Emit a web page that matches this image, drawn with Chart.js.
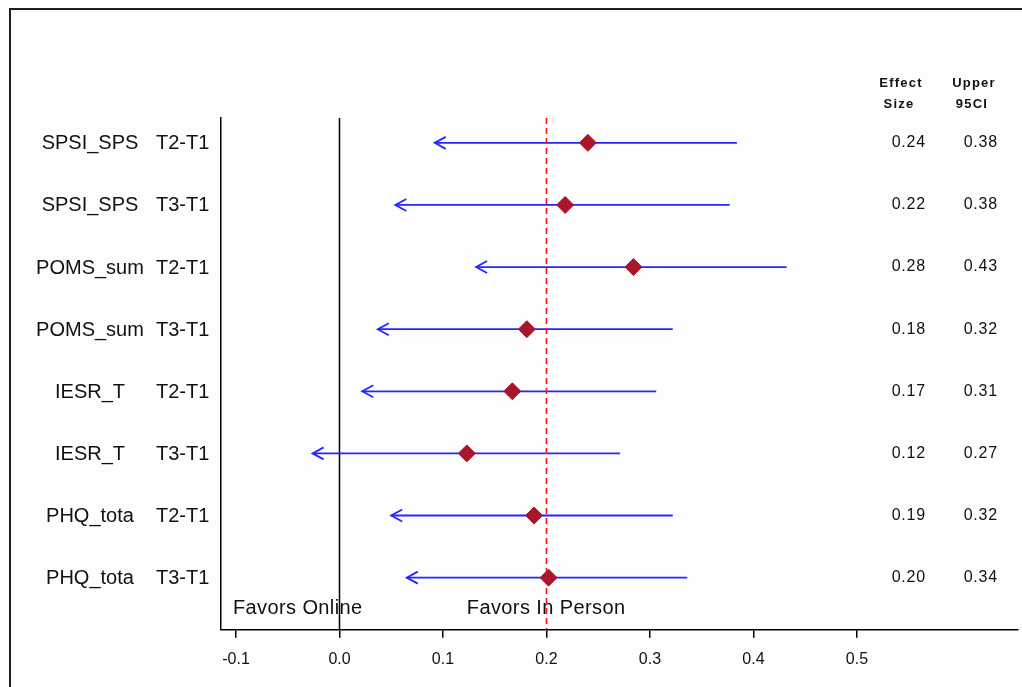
<!DOCTYPE html>
<html>
<head>
<meta charset="utf-8">
<script src="https://cdn.jsdelivr.net/npm/chart.js@4/dist/chart.umd.min.js"></script>
<style>
  html, body { margin: 0; padding: 0; background: #fdfdfd; overflow: hidden; }
  #wrap { position: relative; width: 1022px; height: 687px; }
  #frame { position: absolute; left: 9px; top: 8px; width: 1100px; height: 800px;
           border-top: 2px solid #1e1e1e; border-left: 2px solid #1e1e1e; pointer-events: none; }
</style>
</head>
<body>
<div id="wrap">
  <canvas id="forest"></canvas>
  <div id="frame"></div>
</div>
<script>
// outcome rows, top to bottom
const measures = ['SPSI_SPS', 'SPSI_SPS', 'POMS_sum', 'POMS_sum', 'IESR_T', 'IESR_T', 'PHQ_tota', 'PHQ_tota'];
const contrasts = ['T2-T1', 'T3-T1', 'T2-T1', 'T3-T1', 'T2-T1', 'T3-T1', 'T2-T1', 'T3-T1'];
const effectSize = [0.240, 0.218, 0.284, 0.181, 0.167, 0.123, 0.188, 0.202];
const lowerCI = [0.092, 0.054, 0.132, 0.037, 0.022, -0.026, 0.050, 0.065];
const upperCI = [0.384, 0.377, 0.432, 0.322, 0.306, 0.271, 0.322, 0.336];
const xTicks = [-0.1, 0.0, 0.1, 0.2, 0.3, 0.4, 0.5];
const refLine = 0.2;

const FONT = "'Liberation Sans', Arial, sans-serif";
const BLUE = '#2626ff';
const Y_MIN = -0.4, Y_MAX = 7.84;

const ciSets = measures.map((m, i) => ({
    type: 'scatter',
    showLine: true,
    data: [{ x: lowerCI[i], y: i }, { x: upperCI[i], y: i }],
    borderColor: BLUE,
    borderWidth: 1.8,
    pointRadius: 0,
    order: 3
}));

// text and arrowheads drawn with the chart's scales
const annotate = {
    id: 'annotate',
    afterDatasetsDraw(chart) {
        const { ctx, chartArea, scales: { x, y } } = chart;
        ctx.save();

        // open arrowheads at the lower limits
        ctx.strokeStyle = BLUE;
        ctx.lineWidth = 1.8;
        lowerCI.forEach((v, i) => {
            const px = x.getPixelForValue(v), py = y.getPixelForValue(i);
            ctx.beginPath();
            ctx.moveTo(px + 11, py - 6);
            ctx.lineTo(px, py);
            ctx.lineTo(px + 11, py + 6);
            ctx.stroke();
        });

        ctx.fillStyle = '#111';
        ctx.textBaseline = 'middle';

        // row labels
        ctx.font = '20px ' + FONT;
        measures.forEach((m, i) => {
            const py = y.getPixelForValue(i) + 1;
            ctx.textAlign = 'center';
            ctx.fillText(m, chartArea.left - 131, py);
            ctx.textAlign = 'left';
            ctx.fillText(contrasts[i], chartArea.left - 65, py);
        });

        // Effect size / upper CI columns
        ctx.letterSpacing = '1.2px';
        ctx.font = 'bold 13px ' + FONT;
        ctx.textAlign = 'center';
        ctx.fillText('Effect', 901, 83);
        ctx.fillText('Size', 899, 104);
        ctx.fillText('Upper', 974, 83);
        ctx.fillText('95CI', 972, 104);

        ctx.letterSpacing = '0.8px';
        ctx.font = '16px ' + FONT;
        ctx.textAlign = 'right';
        effectSize.forEach((v, i) => {
            const py = y.getPixelForValue(i);
            ctx.fillText(v.toFixed(2), 926, py);
            ctx.fillText(upperCI[i].toFixed(2), 998, py);
        });

        // direction labels
        ctx.letterSpacing = '0.4px';
        ctx.font = '20px ' + FONT;
        ctx.textAlign = 'left';
        ctx.fillText('Favors Online', x.getPixelForValue(-0.103), y.getPixelForValue(7.5));
        ctx.fillText('Favors In Person', x.getPixelForValue(0.123), y.getPixelForValue(7.5));
        ctx.letterSpacing = '0px';

        ctx.restore();
    }
};

new Chart(document.getElementById('forest'), {
    type: 'scatter',
    data: {
        datasets: [
            {
                type: 'scatter', showLine: true,
                data: [{ x: 0, y: Y_MIN }, { x: 0, y: Y_MAX }],
                borderColor: '#000', borderWidth: 1.5, pointRadius: 0, order: 4
            },
            {
                type: 'scatter', showLine: true,
                data: [{ x: refLine, y: Y_MIN }, { x: refLine, y: Y_MAX }],
                borderColor: '#ff1a1a', borderWidth: 1.7, borderDash: [6, 4], pointRadius: 0, order: 2
            },
            ...ciSets,
            {
                data: effectSize.map((v, i) => ({ x: v, y: i })),
                pointStyle: 'rectRot',
                pointRadius: 8.5,
                backgroundColor: '#a8162b',
                borderColor: '#a8162b',
                borderWidth: 1,
                order: 1
            }
        ]
    },
    options: {
        responsive: true, maintainAspectRatio: false,
        animation: false,
        layout: { autoPadding: false, padding: { top: 118, left: 213, right: 4, bottom: 6 } },
        plugins: { legend: { display: false }, tooltip: { enabled: false } },
        scales: {
            x: {
                type: 'linear', min: -0.1145, max: 0.6556,
                afterBuildTicks: (axis) => { axis.ticks = xTicks.map(v => ({ value: v })); },
                ticks: {
                    color: '#111', padding: 12, maxRotation: 0,
                    font: { family: FONT, size: 16 },
                    callback: (v) => Number(v).toFixed(1)
                },
                grid: { drawOnChartArea: false, drawTicks: true, tickLength: 8, color: '#000', lineWidth: 1.5 },
                border: { display: true, color: '#000', width: 1.5 }
            },
            y: {
                type: 'linear', min: Y_MIN, max: Y_MAX, reverse: true,
                ticks: { display: false },
                grid: { display: false },
                border: { display: true, color: '#000', width: 1.5 }
            }
        }
    },
    plugins: [annotate]
});
</script>
</body>
</html>
